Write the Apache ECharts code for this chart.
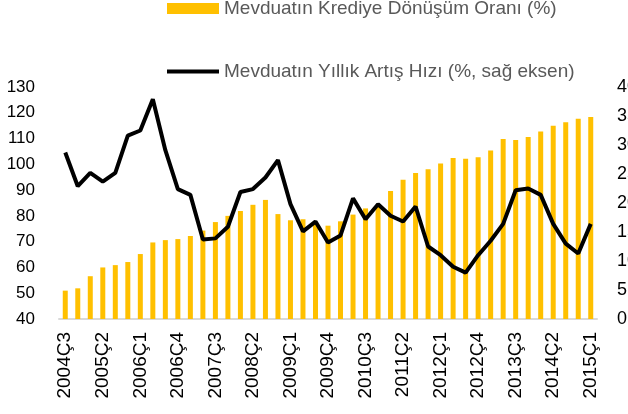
<!DOCTYPE html>
<html>
<head>
<meta charset="utf-8">
<script src="https://cdn.jsdelivr.net/npm/echarts@6/dist/echarts.min.js"></script>
<style>
  html, body { margin: 0; padding: 0; background: #fff; }
  #main { width: 628px; height: 414px; }
</style>
</head>
<body>
<div id="main"></div>
<script>
// ceyrekler 2004Ç3 - 2015Ç1
var categories = [];
for (var y = 2004; y <= 2015; y++) {
  for (var q = 1; q <= 4; q++) {
    if ((y === 2004 && q < 3) || (y === 2015 && q > 1)) continue;
    categories.push(y + 'Ç' + q);
  }
}

// Mevduatın Krediye Dönüşüm Oranı (%) - sol eksen
var krediOrani = [
  51.0, 51.9, 56.6, 60.0, 60.9, 62.1, 65.2, 69.7, 70.6, 71.0,
  72.2, 74.3, 77.6, 80.0, 81.9, 84.3, 86.2, 80.7, 78.3, 78.7,
  77.6, 76.2, 77.9, 80.5, 82.9, 83.6, 89.7, 94.0, 96.6, 98.1,
  100.3, 102.5, 102.2, 102.7, 105.4, 109.8, 109.4, 110.6, 112.7, 115.0,
  116.3, 117.7, 118.4
];

// Mevduatın Yıllık Artış Hızı (%, sağ eksen)
var artisHizi = [
  28.7, 22.9, 25.2, 23.7, 25.2, 31.6, 32.5, 37.9, 29.1, 22.4,
  21.4, 13.7, 13.9, 15.9, 21.9, 22.4, 24.4, 27.4, 19.8, 15.1,
  16.8, 13.2, 14.4, 20.8, 17.2, 19.8, 17.8, 16.8, 19.4, 12.5,
  11.0, 9.0, 8.0, 11.0, 13.5, 16.4, 22.2, 22.5, 21.4, 16.4,
  13.0, 11.3, 16.4
];

var chart = echarts.init(document.getElementById('main'));

var fontName = '"Liberation Sans", Arial, sans-serif';
var textGray = '#595959';

var option = {
  animation: false,
  textStyle: { fontFamily: fontName },
  legend: [
    {
      data: ['Mevduatın Krediye Dönüşüm Oranı (%)'],
      left: 162,
      top: -6,
      itemWidth: 52,
      itemHeight: 11,
      itemGap: 6,
      icon: 'rect',
      textStyle: { color: textGray, fontSize: 19, fontFamily: fontName }
    },
    {
      data: ['Mevduatın Yıllık Artış Hızı (%, sağ eksen)'],
      left: 162,
      top: 57,
      itemWidth: 52,
      itemHeight: 4,
      icon: 'rect',
      textStyle: { color: textGray, fontSize: 19, fontFamily: fontName }
    }
  ],
  grid: { left: 59, right: 31, top: 87, bottom: 95, outerBoundsMode: 'none', containLabel: false },
  xAxis: {
    type: 'category',
    data: categories,
    axisLine: { lineStyle: { color: '#D9D9D9', width: 2 } },
    axisTick: { show: false },
    axisLabel: {
      interval: 2,
      rotate: 90,
      margin: 13,
      color: '#000',
      fontSize: 19,
      fontFamily: fontName
    }
  },
  yAxis: [
    {
      type: 'value',
      min: 40,
      max: 130,
      interval: 10,
      splitLine: { show: false },
      axisLine: { show: false },
      axisTick: { show: false },
      axisLabel: { color: '#000', fontSize: 17, margin: 24 }
    },
    {
      type: 'value',
      min: 0,
      max: 40,
      interval: 5,
      splitLine: { show: false },
      axisLine: { show: false },
      axisTick: { show: false },
      axisLabel: { color: '#000', fontSize: 18, margin: 20 }
    }
  ],
  series: [
    {
      name: 'Mevduatın Krediye Dönüşüm Oranı (%)',
      type: 'bar',
      data: krediOrani,
      barWidth: 5,
      itemStyle: { color: '#FFC000' }
    },
    {
      name: 'Mevduatın Yıllık Artış Hızı (%, sağ eksen)',
      type: 'line',
      yAxisIndex: 1,
      data: artisHizi,
      symbol: 'none',
      lineStyle: { color: '#000', width: 4 },
      itemStyle: { color: '#000' }
    }
  ]
};

chart.setOption(option);
</script>
</body>
</html>
